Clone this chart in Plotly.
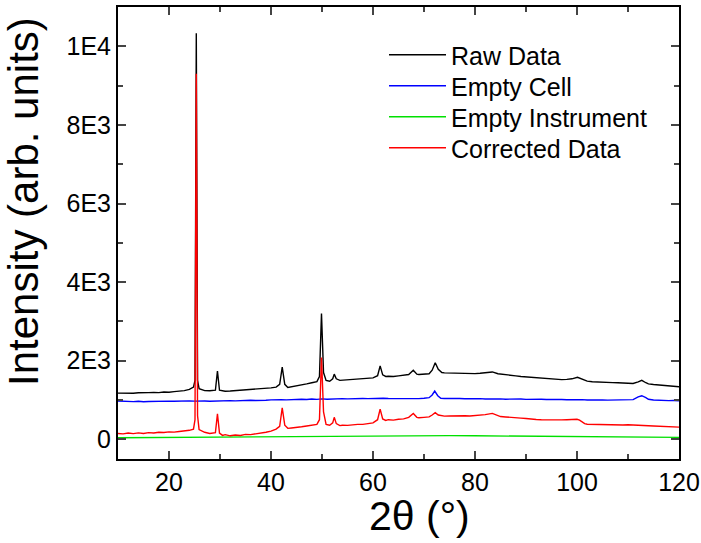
import plotly.graph_objects as go

raw_x = [10,11,12,13,14,15,16,17,18,19,20,21,22,23,24,24.8,25.1,25.35,25.6,25.9,27,28,29.1,29.5,29.9,31,32,33,34,35,36,37,38,39,40,41,41.7,42.2,42.7,43.3,44,45,46,47,48,49,49.5,49.9,50.3,50.8,51.5,52.1,52.4,52.8,53.5,54,55,56,57,58,59,60,60.9,61.4,61.9,62.5,63,64,65,66,67,67.9,68.6,69,70,71,71.6,72.2,72.8,73.5,74,75,76,77,78,79,80,81,82,83.4,84.5,85,86,87,88,89,90,91,92,93,94,95,96,97,98,99,100.1,101,102,103,104,105,106,107,108,109,110,111,112,112.7,113.5,114,115,116,117,118,119,120]
raw_y = [1175,1168,1180,1172,1185,1178,1190,1195,1188,1205,1200,1215,1225,1240,1270,1330,1500,10330,1500,1290,1240,1235,1250,1740,1250,1225,1230,1240,1238,1250,1255,1265,1275,1290,1310,1330,1400,1840,1400,1320,1335,1350,1380,1410,1440,1470,1600,3200,1700,1500,1480,1540,1660,1540,1500,1505,1510,1520,1525,1540,1550,1565,1620,1870,1640,1600,1605,1600,1615,1625,1650,1760,1660,1650,1655,1670,1760,1950,1780,1700,1690,1685,1680,1675,1680,1670,1672,1680,1690,1715,1670,1660,1645,1630,1615,1600,1590,1575,1565,1560,1550,1540,1530,1520,1525,1540,1580,1530,1480,1465,1455,1450,1448,1442,1440,1435,1425,1420,1460,1500,1440,1410,1395,1385,1370,1360,1345,1340]

cell_x = [10,11,12,13,14,15,16,17,18,19,20,21,22,23,24,25,26,27,28,29,30,31,32,33,34,35,36,37,38,39,40,41,42,43,44,45,46,47,48,49,50,51,52,53,54,55,56,57,58,59,60,61,62,63,64,65,66,67,68,69,70,71,71.6,72.1,72.7,73.3,74,75,76,77,78,79,80,81,82,83,84,85,86,87,88,89,90,91,92,93,94,95,96,97,98,99,100,101,102,103,104,105,106,107,108,109,110,111,112,112.7,113.5,114,115,116,117,118,119,120]
cell_y = [975,965,972,960,970,955,962,968,958,965,972,968,975,970,978,972,980,975,970,978,972,980,985,978,990,985,995,988,1000,995,1005,998,1010,1005,1015,1008,1020,1012,1025,1018,1030,1022,1030,1025,1035,1030,1038,1032,1040,1035,1042,1038,1045,1040,1038,1042,1035,1040,1038,1035,1045,1060,1130,1230,1110,1045,1040,1045,1035,1040,1032,1038,1030,1035,1028,1032,1025,1030,1022,1028,1020,1025,1018,1022,1015,1020,1012,1018,1010,1015,1008,1012,1005,1010,1002,1008,1000,1005,998,1002,995,1000,998,1010,1080,1110,1060,1020,1000,990,995,985,990,980]

inst_x = [10,15,20,25,30,35,40,45,50,55,60,65,70,75,80,85,90,95,100,105,110,115,120]
inst_y = [40,45,50,55,60,65,70,75,85,90,95,100,100,95,90,85,80,75,70,65,60,55,50]

corr_x = [10,11,12,13,14,15,16,17,18,19,20,21,22,23,24,24.8,25.1,25.35,25.6,25.9,27,28,29.1,29.5,29.9,30.5,31,32,33,34,35,36,37,38,39,40,41,41.7,42.2,42.7,43.3,44,45,46,47,48,49,49.5,49.9,50.3,50.8,51.5,52.1,52.4,52.8,53.5,54,55,56,57,58,59,60,60.9,61.4,61.9,62.5,63,64,65,66,67,67.9,68.6,69,70,71,71.6,72.2,72.8,73.5,74,75,76,77,78,79,80,81,82,83.4,84.5,85,86,87,88,89,90,91,92,93,94,95,96,97,98,99,100,100.5,101.5,102,103,104,105,106,107,108,109,110,111,112,113,114,115,116,117,118,119,120]
corr_y = [150,140,160,145,165,150,170,160,180,175,190,185,200,210,230,260,500,9300,600,250,180,150,170,650,160,100,120,90,110,100,125,120,140,150,180,210,260,330,800,360,280,290,300,320,340,360,380,500,2080,700,380,360,420,560,400,350,360,355,370,380,380,400,420,500,770,520,480,500,490,510,520,560,660,560,550,560,570,620,680,620,600,590,595,600,590,600,595,605,620,630,660,610,580,570,565,550,540,530,510,505,500,495,500,490,495,500,505,510,490,400,385,380,385,375,380,370,375,365,370,360,355,350,345,340,335,330,325,320,310]

series_names = ["Raw Data", "Empty Cell", "Empty Instrument", "Corrected Data"]
series_colors = ["#000000", "#0000ff", "#00e000", "#ff0000"]

y_tickvals = [0, 2000, 4000, 6000, 8000, 10000]
y_ticktext = ["0", "2E3", "4E3", "6E3", "8E3", "1E4"]
x_tickvals = [20, 40, 60, 80, 100, 120]

# plot area in pixels (for layout placement only)
L, R, T, B = 118, 679, 7, 459
PW, PH = R - L, B - T

font_family = "Liberation Sans, Arial, sans-serif"
legend_names = ["legend", "legend2", "legend3", "legend4"]
legend_rows = [55, 86, 117, 148]

fig = go.Figure()
for (xs, ys), name, col, lg in zip([(raw_x, raw_y), (cell_x, cell_y), (inst_x, inst_y), (corr_x, corr_y)],
                                   series_names, series_colors, legend_names):
    fig.add_trace(go.Scatter(x=xs, y=ys, mode="lines", name=name, legend=lg,
                             line=dict(color=col, width=1.4)))

layout_legends = {}
for lg, row in zip(legend_names, legend_rows):
    layout_legends[lg] = dict(x=(384 - L) / PW, y=(B - row) / PH, xanchor="left", yanchor="middle",
                              bgcolor="rgba(0,0,0,0)", font=dict(size=25, family=font_family),
                              itemwidth=57)

fig.update_layout(
    width=701, height=543,
    margin=dict(l=L, r=701 - R, t=T, b=543 - B, autoexpand=False),
    plot_bgcolor="white", paper_bgcolor="white",
    font=dict(family=font_family, color="black"),
    showlegend=True,
    **layout_legends,
)
fig.update_xaxes(
    range=[10, 120], tickvals=x_tickvals, ticks="inside", ticklen=8, tickwidth=1.5,
    showline=True, linecolor="black", linewidth=2, mirror="allticks", automargin=False,
    showgrid=False, zeroline=False, tickfont=dict(size=25),
    minor=dict(dtick=10, tick0=0, ticks="inside", ticklen=5, tickwidth=1.5, showgrid=False),
)
fig.update_yaxes(
    range=[-500, 11000], tickvals=y_tickvals, ticktext=y_ticktext, ticks="inside",
    ticklen=8, tickwidth=1.5, automargin=False,
    showline=True, linecolor="black", linewidth=2, mirror="allticks",
    showgrid=False, zeroline=False, tickfont=dict(size=25),
    minor=dict(dtick=1000, tick0=0, ticks="inside", ticklen=5, tickwidth=1.5, showgrid=False),
)
fig.add_annotation(text="2θ (°)", xref="paper", yref="paper", x=(419 - L) / PW, y=-(541 - B) / PH,
                   xanchor="center", yanchor="bottom", showarrow=False, font=dict(size=41))
fig.add_annotation(text="Intensity (arb. units)", xref="paper", yref="paper",
                   x=-(L - 24) / PW, y=(B - 202) / PH, xanchor="center", yanchor="middle",
                   textangle=-90, showarrow=False, font=dict(size=42))
fig.write_html("out.html")
